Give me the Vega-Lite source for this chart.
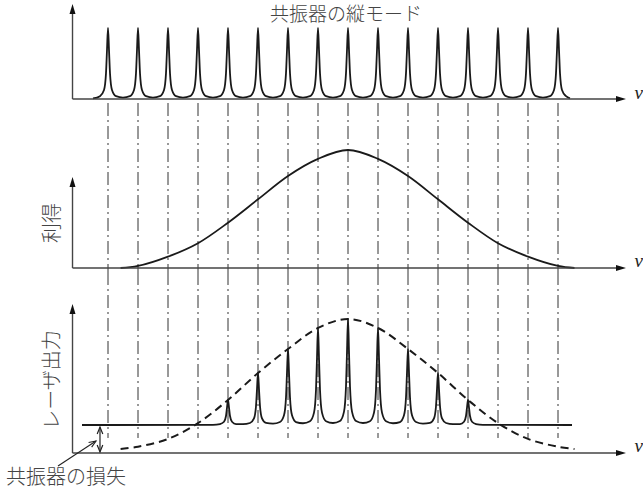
{
  "$schema": "https://vega.github.io/schema/vega-lite/v6.json",
  "padding": 0,
  "spacing": 0,
  "bounds": "flush",
  "background": "white",
  "config": {"view": {"stroke": null}, "text": {"font": "Noto Sans CJK JP", "fontWeight": 300}},
  "datasets": {
    "modes": [
      {"nu":-0.5,"a":0.008},
      {"nu":-0.267,"a":0.04},{"nu":-0.133,"a":0.127},{"nu":-0.067,"a":0.36},{"nu":-0.033,"a":0.693},{"nu":0,"a":1},{"nu":0.033,"a":0.693},{"nu":0.067,"a":0.36},{"nu":0.133,"a":0.127},{"nu":0.267,"a":0.04},{"nu":0.5,"a":0.02},
      {"nu":0.733,"a":0.04},{"nu":0.867,"a":0.127},{"nu":0.933,"a":0.36},{"nu":0.967,"a":0.693},{"nu":1,"a":1},{"nu":1.033,"a":0.693},{"nu":1.067,"a":0.36},{"nu":1.133,"a":0.127},{"nu":1.267,"a":0.04},{"nu":1.5,"a":0.02},
      {"nu":1.733,"a":0.04},{"nu":1.867,"a":0.127},{"nu":1.933,"a":0.36},{"nu":1.967,"a":0.693},{"nu":2,"a":1},{"nu":2.033,"a":0.693},{"nu":2.067,"a":0.36},{"nu":2.133,"a":0.127},{"nu":2.267,"a":0.04},{"nu":2.5,"a":0.02},
      {"nu":2.733,"a":0.04},{"nu":2.867,"a":0.127},{"nu":2.933,"a":0.36},{"nu":2.967,"a":0.693},{"nu":3,"a":1},{"nu":3.033,"a":0.693},{"nu":3.067,"a":0.36},{"nu":3.133,"a":0.127},{"nu":3.267,"a":0.04},{"nu":3.5,"a":0.02},
      {"nu":3.733,"a":0.04},{"nu":3.867,"a":0.127},{"nu":3.933,"a":0.36},{"nu":3.967,"a":0.693},{"nu":4,"a":1},{"nu":4.033,"a":0.693},{"nu":4.067,"a":0.36},{"nu":4.133,"a":0.127},{"nu":4.267,"a":0.04},{"nu":4.5,"a":0.02},
      {"nu":4.733,"a":0.04},{"nu":4.867,"a":0.127},{"nu":4.933,"a":0.36},{"nu":4.967,"a":0.693},{"nu":5,"a":1},{"nu":5.033,"a":0.693},{"nu":5.067,"a":0.36},{"nu":5.133,"a":0.127},{"nu":5.267,"a":0.04},{"nu":5.5,"a":0.02},
      {"nu":5.733,"a":0.04},{"nu":5.867,"a":0.127},{"nu":5.933,"a":0.36},{"nu":5.967,"a":0.693},{"nu":6,"a":1},{"nu":6.033,"a":0.693},{"nu":6.067,"a":0.36},{"nu":6.133,"a":0.127},{"nu":6.267,"a":0.04},{"nu":6.5,"a":0.02},
      {"nu":6.733,"a":0.04},{"nu":6.867,"a":0.127},{"nu":6.933,"a":0.36},{"nu":6.967,"a":0.693},{"nu":7,"a":1},{"nu":7.033,"a":0.693},{"nu":7.067,"a":0.36},{"nu":7.133,"a":0.127},{"nu":7.267,"a":0.04},{"nu":7.5,"a":0.02},
      {"nu":7.733,"a":0.04},{"nu":7.867,"a":0.127},{"nu":7.933,"a":0.36},{"nu":7.967,"a":0.693},{"nu":8,"a":1},{"nu":8.033,"a":0.693},{"nu":8.067,"a":0.36},{"nu":8.133,"a":0.127},{"nu":8.267,"a":0.04},{"nu":8.5,"a":0.02},
      {"nu":8.733,"a":0.04},{"nu":8.867,"a":0.127},{"nu":8.933,"a":0.36},{"nu":8.967,"a":0.693},{"nu":9,"a":1},{"nu":9.033,"a":0.693},{"nu":9.067,"a":0.36},{"nu":9.133,"a":0.127},{"nu":9.267,"a":0.04},{"nu":9.5,"a":0.02},
      {"nu":9.733,"a":0.04},{"nu":9.867,"a":0.127},{"nu":9.933,"a":0.36},{"nu":9.967,"a":0.693},{"nu":10,"a":1},{"nu":10.033,"a":0.693},{"nu":10.067,"a":0.36},{"nu":10.133,"a":0.127},{"nu":10.267,"a":0.04},{"nu":10.5,"a":0.02},
      {"nu":10.733,"a":0.04},{"nu":10.867,"a":0.127},{"nu":10.933,"a":0.36},{"nu":10.967,"a":0.693},{"nu":11,"a":1},{"nu":11.033,"a":0.693},{"nu":11.067,"a":0.36},{"nu":11.133,"a":0.127},{"nu":11.267,"a":0.04},{"nu":11.5,"a":0.02},
      {"nu":11.733,"a":0.04},{"nu":11.867,"a":0.127},{"nu":11.933,"a":0.36},{"nu":11.967,"a":0.693},{"nu":12,"a":1},{"nu":12.033,"a":0.693},{"nu":12.067,"a":0.36},{"nu":12.133,"a":0.127},{"nu":12.267,"a":0.04},{"nu":12.5,"a":0.02},
      {"nu":12.733,"a":0.04},{"nu":12.867,"a":0.127},{"nu":12.933,"a":0.36},{"nu":12.967,"a":0.693},{"nu":13,"a":1},{"nu":13.033,"a":0.693},{"nu":13.067,"a":0.36},{"nu":13.133,"a":0.127},{"nu":13.267,"a":0.04},{"nu":13.5,"a":0.02},
      {"nu":13.733,"a":0.04},{"nu":13.867,"a":0.127},{"nu":13.933,"a":0.36},{"nu":13.967,"a":0.693},{"nu":14,"a":1},{"nu":14.033,"a":0.693},{"nu":14.067,"a":0.36},{"nu":14.133,"a":0.127},{"nu":14.267,"a":0.04},{"nu":14.5,"a":0.02},
      {"nu":14.733,"a":0.04},{"nu":14.867,"a":0.127},{"nu":14.933,"a":0.36},{"nu":14.967,"a":0.693},{"nu":15,"a":1},{"nu":15.033,"a":0.693},{"nu":15.067,"a":0.36},{"nu":15.133,"a":0.127},{"nu":15.267,"a":0.04},
      {"nu":15.4,"a":0.01}
    ],
    "modeLines": [
      {"nu":0},{"nu":1},{"nu":2},{"nu":3},{"nu":4},{"nu":5},{"nu":6},{"nu":7},{"nu":8},{"nu":9},{"nu":10},{"nu":11},{"nu":12},{"nu":13},{"nu":14},{"nu":15}
    ],
    "gain": [
      {"nu":0.42,"g":0},{"nu":1,"g":0.017},{"nu":2,"g":0.096},{"nu":3,"g":0.21},{"nu":4,"g":0.384},{"nu":5,"g":0.582},{"nu":6,"g":0.78},{"nu":7,"g":0.925},{"nu":8,"g":1},{"nu":9,"g":0.925},{"nu":10,"g":0.78},{"nu":11,"g":0.582},{"nu":12,"g":0.384},{"nu":13,"g":0.21},{"nu":14,"g":0.096},{"nu":15,"g":0.017},{"nu":15.55,"g":0}
    ],
    "gainDashed": [
      {"nu":0.42,"d":0.03},{"nu":1,"d":0.047},{"nu":2,"d":0.105},{"nu":3,"d":0.223},{"nu":4,"d":0.396},{"nu":5,"d":0.597},{"nu":6,"d":0.776},{"nu":7,"d":0.933},{"nu":8,"d":1},{"nu":9,"d":0.933},{"nu":10,"d":0.776},{"nu":11,"d":0.597},{"nu":12,"d":0.396},{"nu":13,"d":0.223},{"nu":14,"d":0.105},{"nu":15,"d":0.047},{"nu":15.55,"d":0.03}
    ],
    "laser": [
      {"nu":-0.867,"o":0.209},{"nu":3.5,"o":0.21},
      {"nu":3.733,"o":0.216},{"nu":3.867,"o":0.233},{"nu":3.933,"o":0.276},{"nu":3.967,"o":0.339},{"nu":4,"o":0.396},{"nu":4.033,"o":0.339},{"nu":4.067,"o":0.276},{"nu":4.133,"o":0.233},{"nu":4.267,"o":0.216},{"nu":4.5,"o":0.215},
      {"nu":4.733,"o":0.224},{"nu":4.867,"o":0.258},{"nu":4.933,"o":0.349},{"nu":4.967,"o":0.478},{"nu":5,"o":0.597},{"nu":5.033,"o":0.478},{"nu":5.067,"o":0.349},{"nu":5.133,"o":0.258},{"nu":5.267,"o":0.224},{"nu":5.5,"o":0.219},
      {"nu":5.733,"o":0.231},{"nu":5.867,"o":0.281},{"nu":5.933,"o":0.413},{"nu":5.967,"o":0.602},{"nu":6,"o":0.776},{"nu":6.033,"o":0.602},{"nu":6.067,"o":0.413},{"nu":6.133,"o":0.281},{"nu":6.267,"o":0.231},{"nu":6.5,"o":0.222},
      {"nu":6.733,"o":0.237},{"nu":6.867,"o":0.301},{"nu":6.933,"o":0.47},{"nu":6.967,"o":0.711},{"nu":7,"o":0.933},{"nu":7.033,"o":0.711},{"nu":7.067,"o":0.47},{"nu":7.133,"o":0.301},{"nu":7.267,"o":0.237},{"nu":7.5,"o":0.224},
      {"nu":7.733,"o":0.239},{"nu":7.867,"o":0.309},{"nu":7.933,"o":0.494},{"nu":7.967,"o":0.757},{"nu":8,"o":1},{"nu":8.033,"o":0.757},{"nu":8.067,"o":0.494},{"nu":8.133,"o":0.309},{"nu":8.267,"o":0.239},{"nu":8.5,"o":0.224},
      {"nu":8.733,"o":0.237},{"nu":8.867,"o":0.301},{"nu":8.933,"o":0.47},{"nu":8.967,"o":0.711},{"nu":9,"o":0.933},{"nu":9.033,"o":0.711},{"nu":9.067,"o":0.47},{"nu":9.133,"o":0.301},{"nu":9.267,"o":0.237},{"nu":9.5,"o":0.222},
      {"nu":9.733,"o":0.231},{"nu":9.867,"o":0.281},{"nu":9.933,"o":0.413},{"nu":9.967,"o":0.602},{"nu":10,"o":0.776},{"nu":10.033,"o":0.602},{"nu":10.067,"o":0.413},{"nu":10.133,"o":0.281},{"nu":10.267,"o":0.231},{"nu":10.5,"o":0.219},
      {"nu":10.733,"o":0.224},{"nu":10.867,"o":0.258},{"nu":10.933,"o":0.349},{"nu":10.967,"o":0.478},{"nu":11,"o":0.597},{"nu":11.033,"o":0.478},{"nu":11.067,"o":0.349},{"nu":11.133,"o":0.258},{"nu":11.267,"o":0.224},{"nu":11.5,"o":0.215},
      {"nu":11.733,"o":0.216},{"nu":11.867,"o":0.233},{"nu":11.933,"o":0.276},{"nu":11.967,"o":0.339},{"nu":12,"o":0.396},{"nu":12.033,"o":0.339},{"nu":12.067,"o":0.276},{"nu":12.133,"o":0.233},{"nu":12.267,"o":0.216},{"nu":12.5,"o":0.21},
      {"nu":15.467,"o":0.209}
    ]
  },
  "vconcat": [
    {
      "width": 643,
      "height": 103,
      "layer": [
        {"data": {"name": "modes"},
         "mark": {"type": "line", "interpolate": "monotone", "color": "#1a1a1a", "strokeWidth": 1.8},
         "encoding": {
           "x": {"field": "nu", "type": "quantitative", "scale": {"domain": [-3.6, 17.8333], "nice": false, "zero": false}, "axis": null},
           "y": {"field": "a", "type": "quantitative", "scale": {"domain": [-0.0563, 1.3944], "nice": false, "zero": false}, "axis": null}}},
        {"data": {"values": [{}]},
         "mark": {"type": "rule", "color": "#444", "strokeWidth": 1.4},
         "encoding": {
           "x": {"datum": -1.183, "type": "quantitative", "scale": {"domain": [-3.6, 17.8333], "nice": false, "zero": false}, "axis": null},
           "x2": {"datum": 17.067},
           "y": {"datum": 0, "type": "quantitative", "scale": {"domain": [-0.0563, 1.3944], "nice": false, "zero": false}, "axis": null}}},
        {"data": {"values": [{}]},
         "mark": {"type": "rule", "color": "#444", "strokeWidth": 1.4},
         "encoding": {
           "x": {"datum": -1.183, "type": "quantitative", "scale": {"domain": [-3.6, 17.8333], "nice": false, "zero": false}, "axis": null},
           "y": {"datum": 0, "type": "quantitative", "scale": {"domain": [-0.0563, 1.3944], "nice": false, "zero": false}, "axis": null},
           "y2": {"datum": 1.225}}},
        {"data": {"values": [{}]},
         "mark": {"type": "point", "shape": "M0,0L-2,-0.6L-2,0.6Z", "filled": true, "color": "#111", "size": 100, "opacity": 1},
         "encoding": {
           "x": {"datum": 17.267, "type": "quantitative", "scale": {"domain": [-3.6, 17.8333], "nice": false, "zero": false}, "axis": null},
           "y": {"datum": 0, "type": "quantitative", "scale": {"domain": [-0.0563, 1.3944], "nice": false, "zero": false}, "axis": null}}},
        {"data": {"values": [{}]},
         "mark": {"type": "point", "shape": "M0,0L-0.6,2L0.6,2Z", "filled": true, "color": "#111", "size": 100, "opacity": 1},
         "encoding": {
           "x": {"datum": -1.183, "type": "quantitative", "scale": {"domain": [-3.6, 17.8333], "nice": false, "zero": false}, "axis": null},
           "y": {"datum": 1.338, "type": "quantitative", "scale": {"domain": [-0.0563, 1.3944], "nice": false, "zero": false}, "axis": null}}},
        {"data": {"values": [{}]},
         "mark": {"type": "text", "text": "共振器の縦モード", "fontSize": 19, "color": "#444", "align": "center", "baseline": "middle"},
         "encoding": {
           "x": {"datum": 7.933, "type": "quantitative", "scale": {"domain": [-3.6, 17.8333], "nice": false, "zero": false}, "axis": null},
           "y": {"datum": 1.19, "type": "quantitative", "scale": {"domain": [-0.0563, 1.3944], "nice": false, "zero": false}, "axis": null}}},
        {"data": {"values": [{}]},
         "mark": {"type": "text", "text": "ν", "font": "Liberation Serif", "fontStyle": "italic", "fontSize": 19, "color": "#222", "align": "left", "baseline": "middle"},
         "encoding": {
           "x": {"datum": 17.55, "type": "quantitative", "scale": {"domain": [-3.6, 17.8333], "nice": false, "zero": false}, "axis": null},
           "y": {"datum": 0.085, "type": "quantitative", "scale": {"domain": [-0.0563, 1.3944], "nice": false, "zero": false}, "axis": null}}}
      ]
    },
    {
      "width": 643,
      "height": 169,
      "layer": [
        {"data": {"name": "modeLines"},
         "mark": {"type": "rule", "color": "#333", "strokeWidth": 1, "strokeDash": [13, 4, 2, 4]},
         "encoding": {
           "x": {"field": "nu", "type": "quantitative", "scale": {"domain": [-3.6, 17.8333], "nice": false, "zero": false}, "axis": null}}},
        {"data": {"name": "gain"},
         "mark": {"type": "line", "interpolate": "catmull-rom", "color": "#1a1a1a", "strokeWidth": 1.8},
         "encoding": {
           "x": {"field": "nu", "type": "quantitative", "scale": {"domain": [-3.6, 17.8333], "nice": false, "zero": false}, "axis": null},
           "y": {"field": "g", "type": "quantitative", "scale": {"domain": [-0.0339, 1.3983], "nice": false, "zero": false}, "axis": null}}},
        {"data": {"values": [{}]},
         "mark": {"type": "rule", "color": "#444", "strokeWidth": 1.4},
         "encoding": {
           "x": {"datum": -1.183, "type": "quantitative", "scale": {"domain": [-3.6, 17.8333], "nice": false, "zero": false}, "axis": null},
           "x2": {"datum": 17.067},
           "y": {"datum": 0, "type": "quantitative", "scale": {"domain": [-0.0339, 1.3983], "nice": false, "zero": false}, "axis": null}}},
        {"data": {"values": [{}]},
         "mark": {"type": "rule", "color": "#444", "strokeWidth": 1.4},
         "encoding": {
           "x": {"datum": -1.183, "type": "quantitative", "scale": {"domain": [-3.6, 17.8333], "nice": false, "zero": false}, "axis": null},
           "y": {"datum": 0, "type": "quantitative", "scale": {"domain": [-0.0339, 1.3983], "nice": false, "zero": false}, "axis": null},
           "y2": {"datum": 0.703}}},
        {"data": {"values": [{}]},
         "mark": {"type": "point", "shape": "M0,0L-2,-0.6L-2,0.6Z", "filled": true, "color": "#111", "size": 100, "opacity": 1},
         "encoding": {
           "x": {"datum": 17.267, "type": "quantitative", "scale": {"domain": [-3.6, 17.8333], "nice": false, "zero": false}, "axis": null},
           "y": {"datum": 0, "type": "quantitative", "scale": {"domain": [-0.0339, 1.3983], "nice": false, "zero": false}, "axis": null}}},
        {"data": {"values": [{}]},
         "mark": {"type": "point", "shape": "M0,0L-0.6,2L0.6,2Z", "filled": true, "color": "#111", "size": 100, "opacity": 1},
         "encoding": {
           "x": {"datum": -1.183, "type": "quantitative", "scale": {"domain": [-3.6, 17.8333], "nice": false, "zero": false}, "axis": null},
           "y": {"datum": 0.771, "type": "quantitative", "scale": {"domain": [-0.0339, 1.3983], "nice": false, "zero": false}, "axis": null}}},
        {"data": {"values": [{}]},
         "mark": {"type": "text", "text": "利得", "fontSize": 20, "color": "#444", "align": "center", "baseline": "middle", "angle": 270},
         "encoding": {
           "x": {"datum": -1.833, "type": "quantitative", "scale": {"domain": [-3.6, 17.8333], "nice": false, "zero": false}, "axis": null},
           "y": {"datum": 0.381, "type": "quantitative", "scale": {"domain": [-0.0339, 1.3983], "nice": false, "zero": false}, "axis": null}}},
        {"data": {"values": [{}]},
         "mark": {"type": "text", "text": "ν", "font": "Liberation Serif", "fontStyle": "italic", "fontSize": 19, "color": "#222", "align": "left", "baseline": "middle"},
         "encoding": {
           "x": {"datum": 17.55, "type": "quantitative", "scale": {"domain": [-3.6, 17.8333], "nice": false, "zero": false}, "axis": null},
           "y": {"datum": 0.059, "type": "quantitative", "scale": {"domain": [-0.0339, 1.3983], "nice": false, "zero": false}, "axis": null}}}
      ]
    },
    {
      "width": 643,
      "height": 219,
      "layer": [
        {"data": {"name": "modeLines"},
         "mark": {"type": "rule", "color": "#333", "strokeWidth": 1, "strokeDash": [13, 4, 2, 4]},
         "encoding": {
           "x": {"field": "nu", "type": "quantitative", "scale": {"domain": [-3.6, 17.8333], "nice": false, "zero": false}, "axis": null},
           "y": {"datum": 1.3507, "type": "quantitative", "scale": {"domain": [-0.2836, 1.3507], "nice": false, "zero": false}, "axis": null},
           "y2": {"datum": 0.112}}},
        {"data": {"name": "gainDashed"},
         "mark": {"type": "line", "interpolate": "catmull-rom", "color": "#1a1a1a", "strokeWidth": 2, "strokeDash": [8, 5]},
         "encoding": {
           "x": {"field": "nu", "type": "quantitative", "scale": {"domain": [-3.6, 17.8333], "nice": false, "zero": false}, "axis": null},
           "y": {"field": "d", "type": "quantitative", "scale": {"domain": [-0.2836, 1.3507], "nice": false, "zero": false}, "axis": null}}},
        {"data": {"name": "laser"},
         "mark": {"type": "line", "interpolate": "monotone", "color": "#1a1a1a", "strokeWidth": 1.8},
         "encoding": {
           "x": {"field": "nu", "type": "quantitative", "scale": {"domain": [-3.6, 17.8333], "nice": false, "zero": false}, "axis": null},
           "y": {"field": "o", "type": "quantitative", "scale": {"domain": [-0.2836, 1.3507], "nice": false, "zero": false}, "axis": null}}},
        {"data": {"values": [{}]},
         "mark": {"type": "rule", "color": "#444", "strokeWidth": 1.4},
         "encoding": {
           "x": {"datum": -1.183, "type": "quantitative", "scale": {"domain": [-3.6, 17.8333], "nice": false, "zero": false}, "axis": null},
           "x2": {"datum": 17.067},
           "y": {"datum": 0, "type": "quantitative", "scale": {"domain": [-0.2836, 1.3507], "nice": false, "zero": false}, "axis": null}}},
        {"data": {"values": [{}]},
         "mark": {"type": "rule", "color": "#444", "strokeWidth": 1.4},
         "encoding": {
           "x": {"datum": -1.183, "type": "quantitative", "scale": {"domain": [-3.6, 17.8333], "nice": false, "zero": false}, "axis": null},
           "y": {"datum": 0, "type": "quantitative", "scale": {"domain": [-0.2836, 1.3507], "nice": false, "zero": false}, "axis": null},
           "y2": {"datum": 1.052}}},
        {"data": {"values": [{}]},
         "mark": {"type": "point", "shape": "M0,0L-2,-0.6L-2,0.6Z", "filled": true, "color": "#111", "size": 100, "opacity": 1},
         "encoding": {
           "x": {"datum": 17.267, "type": "quantitative", "scale": {"domain": [-3.6, 17.8333], "nice": false, "zero": false}, "axis": null},
           "y": {"datum": 0, "type": "quantitative", "scale": {"domain": [-0.2836, 1.3507], "nice": false, "zero": false}, "axis": null}}},
        {"data": {"values": [{}]},
         "mark": {"type": "point", "shape": "M0,0L-0.6,2L0.6,2Z", "filled": true, "color": "#111", "size": 100, "opacity": 1},
         "encoding": {
           "x": {"datum": -1.183, "type": "quantitative", "scale": {"domain": [-3.6, 17.8333], "nice": false, "zero": false}, "axis": null},
           "y": {"datum": 1.112, "type": "quantitative", "scale": {"domain": [-0.2836, 1.3507], "nice": false, "zero": false}, "axis": null}}},
        {"data": {"values": [{}]},
         "mark": {"type": "rule", "color": "#222", "strokeWidth": 1.2},
         "encoding": {
           "x": {"datum": -0.267, "type": "quantitative", "scale": {"domain": [-3.6, 17.8333], "nice": false, "zero": false}, "axis": null},
           "y": {"datum": 0.01, "type": "quantitative", "scale": {"domain": [-0.2836, 1.3507], "nice": false, "zero": false}, "axis": null},
           "y2": {"datum": 0.192}}},
        {"data": {"values": [{}]},
         "mark": {"type": "point", "shape": "M-0.8,2L0,0L0.8,2", "filled": false, "color": "#222", "strokeWidth": 1.2, "size": 49, "opacity": 1},
         "encoding": {
           "x": {"datum": -0.267, "type": "quantitative", "scale": {"domain": [-3.6, 17.8333], "nice": false, "zero": false}, "axis": null},
           "y": {"datum": 0.194, "type": "quantitative", "scale": {"domain": [-0.2836, 1.3507], "nice": false, "zero": false}, "axis": null}}},
        {"data": {"values": [{}]},
         "mark": {"type": "point", "shape": "M-0.8,-2L0,0L0.8,-2", "filled": false, "color": "#222", "strokeWidth": 1.2, "size": 49, "opacity": 1},
         "encoding": {
           "x": {"datum": -0.267, "type": "quantitative", "scale": {"domain": [-3.6, 17.8333], "nice": false, "zero": false}, "axis": null},
           "y": {"datum": 0.0075, "type": "quantitative", "scale": {"domain": [-0.2836, 1.3507], "nice": false, "zero": false}, "axis": null}}},
        {"data": {"values": [{}]},
         "mark": {"type": "rule", "color": "#222", "strokeWidth": 1.1},
         "encoding": {
           "x": {"datum": -1.667, "type": "quantitative", "scale": {"domain": [-3.6, 17.8333], "nice": false, "zero": false}, "axis": null},
           "x2": {"datum": -0.4},
           "y": {"datum": -0.097, "type": "quantitative", "scale": {"domain": [-0.2836, 1.3507], "nice": false, "zero": false}, "axis": null},
           "y2": {"datum": 0.0896}}},
        {"data": {"values": [{}]},
         "mark": {"type": "point", "shape": "M-0.8,2L0,0L0.8,2", "filled": false, "color": "#222", "strokeWidth": 1.1, "size": 49, "opacity": 1, "angle": 57},
         "encoding": {
           "x": {"datum": -0.4, "type": "quantitative", "scale": {"domain": [-3.6, 17.8333], "nice": false, "zero": false}, "axis": null},
           "y": {"datum": 0.0896, "type": "quantitative", "scale": {"domain": [-0.2836, 1.3507], "nice": false, "zero": false}, "axis": null}}},
        {"data": {"values": [{}]},
         "mark": {"type": "text", "text": "共振器の損失", "fontSize": 20, "color": "#444", "align": "center", "baseline": "middle"},
         "encoding": {
           "x": {"datum": -1.4, "type": "quantitative", "scale": {"domain": [-3.6, 17.8333], "nice": false, "zero": false}, "axis": null},
           "y": {"datum": -0.187, "type": "quantitative", "scale": {"domain": [-0.2836, 1.3507], "nice": false, "zero": false}, "axis": null}}},
        {"data": {"values": [{}]},
         "mark": {"type": "text", "text": "レーザ出力", "fontSize": 20, "color": "#444", "align": "center", "baseline": "middle", "angle": 270},
         "encoding": {
           "x": {"datum": -1.833, "type": "quantitative", "scale": {"domain": [-3.6, 17.8333], "nice": false, "zero": false}, "axis": null},
           "y": {"datum": 0.545, "type": "quantitative", "scale": {"domain": [-0.2836, 1.3507], "nice": false, "zero": false}, "axis": null}}},
        {"data": {"values": [{}]},
         "mark": {"type": "text", "text": "ν", "font": "Liberation Serif", "fontStyle": "italic", "fontSize": 19, "color": "#222", "align": "left", "baseline": "middle"},
         "encoding": {
           "x": {"datum": 17.55, "type": "quantitative", "scale": {"domain": [-3.6, 17.8333], "nice": false, "zero": false}, "axis": null},
           "y": {"datum": 0.052, "type": "quantitative", "scale": {"domain": [-0.2836, 1.3507], "nice": false, "zero": false}, "axis": null}}}
      ]
    }
  ]
}
